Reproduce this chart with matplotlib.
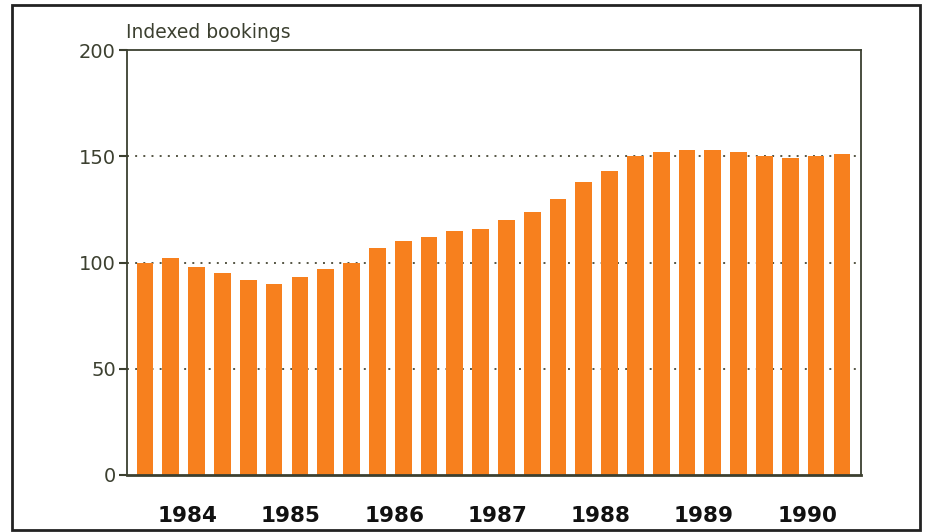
import matplotlib
matplotlib.use("Agg")
import matplotlib.pyplot as plt
from matplotlib.patches import Rectangle

values = [100, 102, 98, 95, 92, 90, 93, 97,
          100, 107, 110, 112, 115, 116, 120, 124,
          130, 138, 143, 150, 152, 153, 153, 152,
          150, 149, 150, 151]
years = ["1984", "1985", "1986", "1987", "1988", "1989", "1990"]
yticks = [0, 50, 100, 150, 200]
ylabel = "Indexed bookings"

bar_color = "#F7801E"
axis_color = "#3c4030"

fig = plt.figure(figsize=(9.28, 5.32), dpi=100)
ax = fig.add_axes([127/928, 1-475/532, (861-127)/928, (475-50)/532])

x = list(range(len(values)))
ax.bar(x, values, width=0.65, color=bar_color, zorder=2)

for v in [50, 100, 150]:
    ax.axhline(v, color="#555544", linestyle=(0, (1, 3.2)), linewidth=1.4, zorder=1)

ax.set_xlim(-0.7, 27.74)
ax.set_ylim(0, 200)
ax.set_yticks(yticks)
ax.set_yticklabels([str(t) for t in yticks], fontsize=14, color=axis_color)
ax.tick_params(axis="y", length=6, width=1.5, color=axis_color, pad=2)

year_pos = [1.65 + 4*i for i in range(len(years))]
ax.set_xticks(year_pos)
ax.set_xticklabels(years, fontsize=15.5, fontweight="heavy", color="#111111")
ax.tick_params(axis="x", length=0, pad=22)

for s in ax.spines.values():
    s.set_color(axis_color)
    s.set_linewidth(1.3)
ax.spines["bottom"].set_linewidth(2)

fig.text(126/928, 1-33/532, ylabel, fontsize=13.5, color=axis_color,
         ha="left", va="center")

fig.patches.append(Rectangle((12/928, 1-530/532), (920-12)/928, (530-5)/532,
                             transform=fig.transFigure, fill=False,
                             edgecolor="#222222", linewidth=2))

fig.savefig("out.png", dpi=100)
